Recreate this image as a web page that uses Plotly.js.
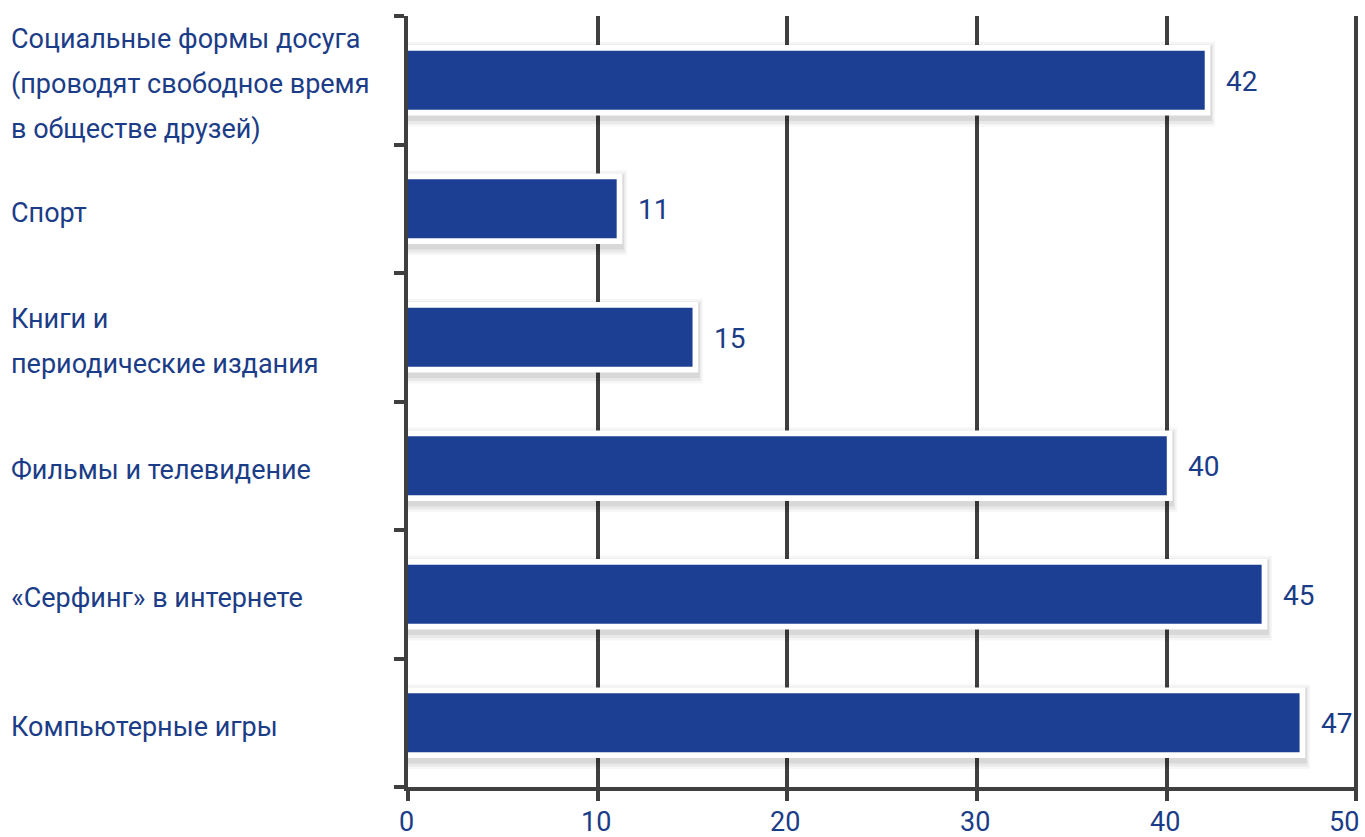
<!DOCTYPE html>
<html><head><meta charset="utf-8">
<script src="https://cdn.plot.ly/plotly-3.0.1.min.js"></script>
<style>html,body{margin:0;padding:0;background:#fff}#chart{width:1365px;height:837px}</style>
</head><body><div id="chart"></div>
<script>
const categories = [
  "Социальные формы досуга<br>(проводят свободное время<br>в обществе друзей)",
  "Спорт",
  "Книги и<br>периодические издания",
  "Фильмы и телевидение",
  "«Серфинг» в интернете",
  "Компьютерные игры"
];
const values = [42, 11, 15, 40, 45, 47];
const xTicks = [0, 10, 20, 30, 40, 50];

const FONT = "Roboto, 'Open Sans', sans-serif";
const TXT = "#1b3c87";
const BAR = "#1c3f94";
const AX = "#3f3f3f";

const ids = categories.map((c, i) => i);

function shadowTrace(w, color, ext, dy) {
  return {
    type: "bar", orientation: "h", x: values.map(v => v + ext), y: ids,
    width: w, offset: -w / 2 + dy,
    marker: {color: color, line: {width: 0}},
    hoverinfo: "skip", showlegend: false
  };
}
const bars = {
  type: "bar", orientation: "h", x: values, y: ids,
  width: 0.46,
  marker: {color: BAR, line: {width: 0}},
  hoverinfo: "x", showlegend: false
};

const annotations = [];
const LINE_H = 45;
categories.forEach((c, i) => {
  const lines = c.split("<br>");
  const n = lines.length;
  lines.forEach((ln, j) => {
    annotations.push({
      xref: "paper", yref: "y", x: -0.4196, y: i, xanchor: "left", yanchor: "middle",
      yshift: ((n - 1) / 2 - j) * LINE_H - 4,
      text: ln, align: "left", showarrow: false,
      font: {family: FONT, size: 27, color: TXT}
    });
  });
  annotations.push({
    xref: "x", yref: "y", x: values[i], y: i, xanchor: "left", yanchor: "middle",
    xshift: 19, yshift: -1, text: String(values[i]), showarrow: false,
    font: {family: FONT, size: 28, color: TXT}
  });
});
xTicks.forEach((t, k) => {
  annotations.push({
    xref: "x", yref: "paper", x: t, y: 0, xanchor: "center", yanchor: "middle",
    yshift: -35, xshift: (k === xTicks.length - 1) ? -12 : -2,
    text: String(t), showarrow: false,
    font: {family: FONT, size: 27, color: TXT}
  });
});

const layout = {
  width: 1365, height: 837,
  margin: {l: 408, r: 7, t: 16, b: 50},
  paper_bgcolor: "#fff", plot_bgcolor: "#fff",
  barmode: "overlay",
  xaxis: {
    range: [0, 50.08], tickvals: xTicks, showticklabels: false,
    showgrid: true, gridcolor: AX, gridwidth: 4, zeroline: false,
    showline: true, linecolor: AX, linewidth: 4,
    ticks: "outside", ticklen: 10, tickwidth: 4, tickcolor: AX,
    layer: "above traces", fixedrange: true
  },
  yaxis: {
    type: "category", range: [5.5, -0.5],
    tickvals: ids, showticklabels: false,
    tickson: "boundaries", ticks: "outside", ticklen: 10, tickwidth: 4, tickcolor: AX,
    showgrid: false, zeroline: false,
    showline: true, linecolor: AX, linewidth: 4,
    layer: "above traces", fixedrange: true
  },
  annotations: annotations
};

Plotly.newPlot("chart", [
  shadowTrace(0.66, "rgba(0,0,0,0.035)", 0.55, 0.03),
  shadowTrace(0.62, "rgba(0,0,0,0.05)", 0.45, 0.03),
  shadowTrace(0.585, "rgba(0,0,0,0.07)", 0.38, 0.025),
  shadowTrace(0.55, "#ffffff", 0.3, 0),
  bars
], layout, {displayModeBar: false, staticPlot: true});
</script></body></html>
